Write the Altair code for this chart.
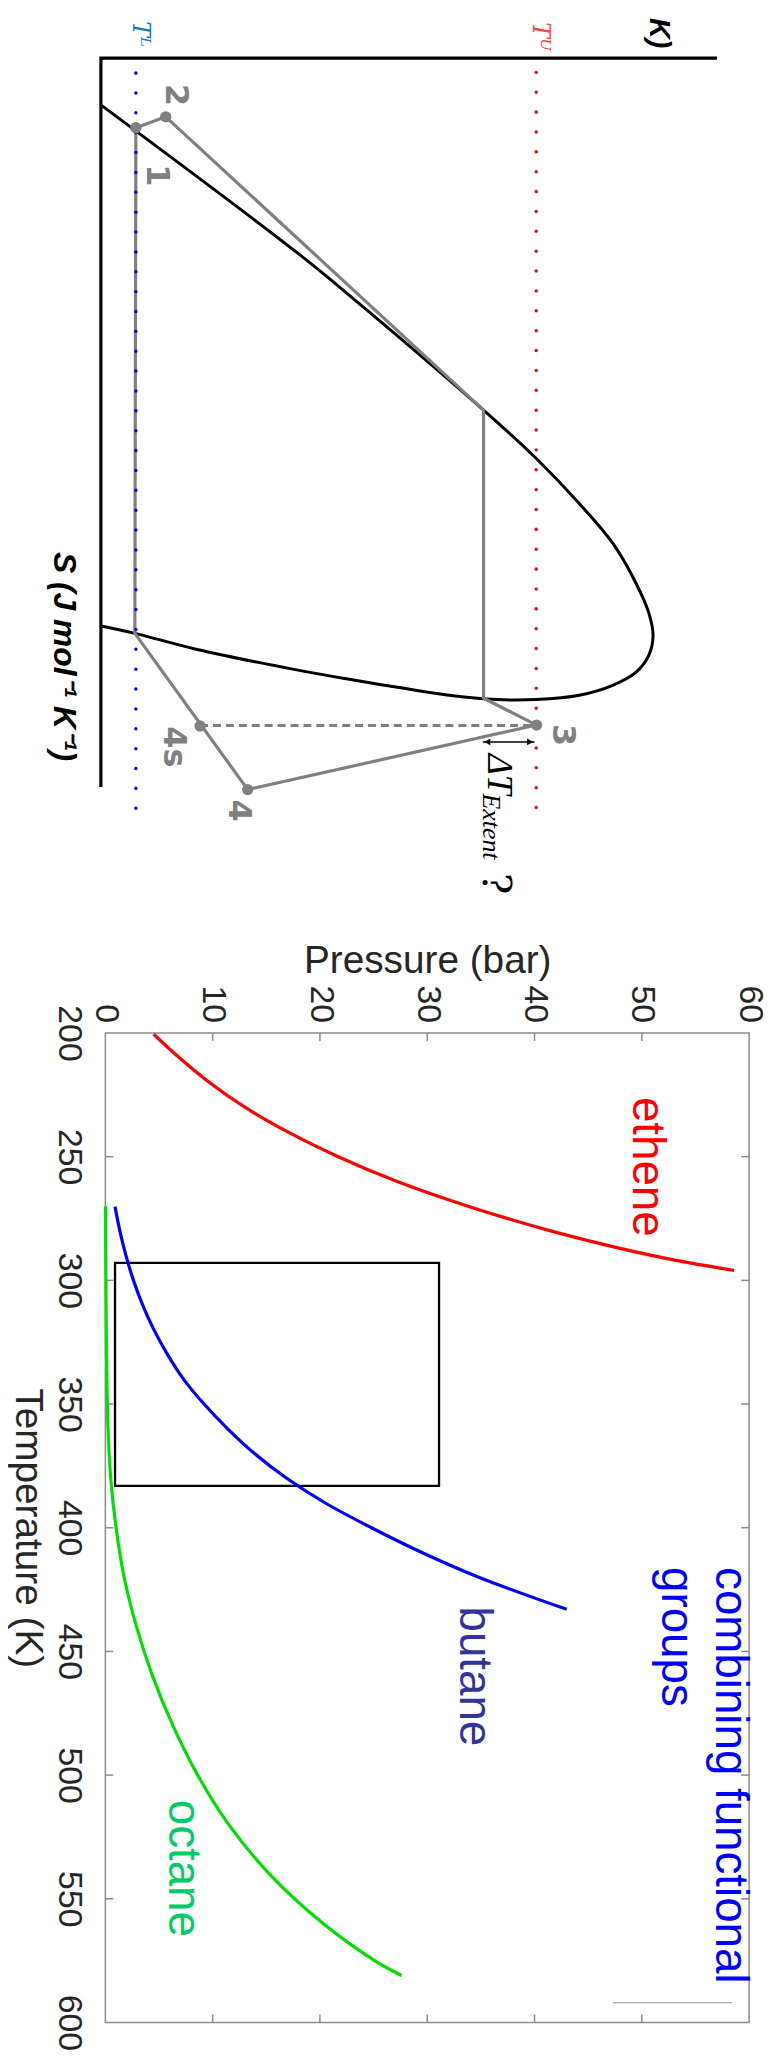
import altair as alt
import pandas as pd

# ================= lower panel: saturation pressure curves =================
ethene_T = [200.5, 210, 220, 230, 240, 250, 260, 270, 280, 290, 296]
ethene_P = [4.5, 6.9, 9.7, 13.0, 17.0, 21.7, 27.2, 33.8, 41.5, 51.0, 58.6]
butane_T = [270.2, 280, 290, 300, 310, 320, 330, 340, 350, 360, 370, 380, 390, 400, 410, 420, 433]
butane_P = [0.9, 1.35, 1.92, 2.62, 3.48, 4.53, 5.8, 7.3, 9.2, 11.4, 13.9, 16.9, 20.5, 24.8, 29.5, 34.8, 43.0]
octane_T = [270, 300, 330, 360, 380, 400, 420, 440, 460, 480, 500, 520, 540, 560, 575, 581]
octane_P = [0.02, 0.05, 0.1, 0.25, 0.5, 1.0, 1.75, 2.9, 4.4, 6.3, 8.6, 11.5, 15.3, 20.3, 25.1, 27.6]

box_P = [0.9, 31.1]
box_T = [292.9, 383.1]

legend_P = [47.3, 58.4]
legend_T = [592.0]

P_label_values = [0, 10, 20, 30, 40, 50, 60]
T_label_values = [200, 250, 300, 350, 400, 450, 500, 550, 600]
P_inner_ticks = [10, 20, 30, 40, 50]
T_inner_ticks = [250, 300, 350, 400, 450, 500, 550]

name_text = ["ethene", "butane", "octane"]
name_P = [49.2, 33.1, 5.9]
name_T = [254.1, 460.1, 537.7]
name_color = ["#ff0000", "#33339c", "#00cc66"]

note_text = ["combining functional", "groups"]
note_P = [56.9, 51.9]
note_T = [415.9, 415.9]

# ================= upper panel: T-s diagram (schematic units 0-100) =================
axis_u = [95.0, -0.69, -0.69]
axis_v = [4.9, 4.9, 87.14]

dome_u = [-0.66, 29.94, 39.66, 58.75, 66.98, 73.61, 78.81, 82.41, 84.41, 85.08, 84.41, 82.41,
          78.81, 73.61, 66.98, 60.80, 53.09, 45.37, 37.65, 29.32, 14.10, 4.58, -0.66]
dome_v = [10.20, 26.94, 32.74, 44.62, 50.11, 55.16, 59.64, 64.13, 67.49, 70.07, 72.31, 74.22,
          75.67, 76.79, 77.28, 77.28, 76.76, 75.90, 74.97, 73.88, 71.60, 69.81, 68.98]

cycle_u = [4.74, 9.38, 58.75, 58.75, 66.98, 22.11, 4.58, 4.74]
cycle_v = [12.75, 11.52, 44.62, 77.13, 80.16, 87.44, 69.81, 12.75]

state_name = ["1", "2", "3", "4", "4s"]
state_u = [4.74, 9.38, 66.98, 22.11, 14.72]
state_v = [12.75, 11.52, 80.16, 87.44, 80.27]
state_label_u = [8.02, 10.91, 71.14, 20.76, 10.65]
state_label_v = [18.11, 9.08, 81.28, 89.80, 82.62]

isentrope_u = [14.72, 66.98]
isentrope_v = [80.2]

limit_name = ["Tᴸ", "Tᵁ"]
limit_u = [4.74, 66.93]
limit_v_start = [6.58, 6.5]
limit_v_end = [89.8, 89.8]
limit_label_u = [5.40, 67.44]
limit_label_v = [2.19, 2.47]

delta_u = [58.64, 66.67]
delta_v = [82.06]

W1, H1 = 648, 892
W2, H2 = 648, 996
FONT = "Liberation Sans"
AX = "#262626"
FRAME = "#8c8c8c"
GRAY = "#808080"

# ---------------- upper panel ----------------
def ux(f="u"):
    return alt.X(f"{f}:Q", scale=alt.Scale(domain=[0, 100], nice=False, zero=False), axis=None)

def vy(f="v"):
    return alt.Y(f"{f}:Q", scale=alt.Scale(domain=[0, 100], nice=False, zero=False, reverse=True), axis=None)

axes_df = pd.DataFrame({"u": axis_u, "v": axis_v, "i": list(range(len(axis_u)))})
dome_df = pd.DataFrame({"u": dome_u, "v": dome_v, "i": list(range(len(dome_u)))})
cycle_df = pd.DataFrame({"u": cycle_u, "v": cycle_v, "i": list(range(len(cycle_u)))})
state_df = pd.DataFrame({"name": state_name, "u": state_u, "v": state_v})
state_lab_df = pd.DataFrame({"name": state_name, "u": state_label_u, "v": state_label_v})
isen_df = pd.DataFrame({"u": [isentrope_u[0]], "u2": [isentrope_u[1]], "v": isentrope_v})
limit_df = pd.DataFrame({"u": limit_u, "v": limit_v_start, "v2": limit_v_end, "c": ["#0000ff", "#ff0000"]})
limit_lab_df = pd.DataFrame({"t": limit_name, "u": limit_label_u, "v": limit_label_v, "c": ["#1a73c8", "#ff4040"]})
delta_df = pd.DataFrame({"u": [delta_u[0]], "u2": [delta_u[1]], "v": delta_v})

layers_top = [
    alt.Chart(axes_df).mark_line(color="black", strokeWidth=3.2, strokeJoin="miter").encode(
        x=ux(), y=vy(), order="i:Q"),
    alt.Chart(dome_df).mark_line(color="black", strokeWidth=3, interpolate="catmull-rom").encode(
        x=ux(), y=vy(), order="i:Q"),
    alt.Chart(cycle_df).mark_line(color=GRAY, strokeWidth=3.2, strokeJoin="round").encode(
        x=ux(), y=vy(), order="i:Q"),
    alt.Chart(isen_df).mark_rule(color=GRAY, strokeWidth=3, strokeDash=[8, 5]).encode(
        x=ux(), x2="u2:Q", y=vy()),
    alt.Chart(limit_df).mark_rule(strokeWidth=3.4, strokeDash=[0.1, 19.9], strokeCap="round").encode(
        x=ux(), y=vy(), y2="v2:Q", color=alt.Color("c:N", scale=None)),
    alt.Chart(state_df).mark_circle(size=130, color=GRAY, opacity=1).encode(x=ux(), y=vy()),
    alt.Chart(state_lab_df).mark_text(angle=90, font="DejaVu Sans", fontWeight="bold", fontSize=32,
                                      color=GRAY, align="center", baseline="middle").encode(
        x=ux(), y=vy(), text="name:N"),
    alt.Chart(limit_lab_df).mark_text(angle=90, font="DejaVu Serif", fontStyle="italic", fontSize=24,
                                      align="center", baseline="middle").encode(
        x=ux(), y=vy(), text="t:N", color=alt.Color("c:N", scale=None)),
    alt.Chart(delta_df).mark_rule(color="black", strokeWidth=1.5).encode(x=ux(), x2="u2:Q", y=vy()),
    alt.Chart(pd.DataFrame({"u": [delta_u[0] + 0.7], "v": delta_v})).mark_point(
        shape="triangle-left", filled=True, size=45, color="black", opacity=1).encode(x=ux(), y=vy()),
    alt.Chart(pd.DataFrame({"u": [delta_u[1] - 0.7], "v": delta_v})).mark_point(
        shape="triangle-right", filled=True, size=45, color="black", opacity=1).encode(x=ux(), y=vy()),
    alt.Chart(pd.DataFrame({"t": ["ΔT"], "u": [59.41], "v": [83.41]})).mark_text(
        angle=90, font="Liberation Serif", fontStyle="italic", fontSize=36, color="black",
        align="left", baseline="alphabetic").encode(x=ux(), y=vy(), text="t:N"),
    alt.Chart(pd.DataFrame({"t": ["Extent"], "u": [58.64], "v": [87.89]})).mark_text(
        angle=90, font="Liberation Serif", fontStyle="italic", fontSize=26, color="black",
        align="left", baseline="alphabetic").encode(x=ux(), y=vy(), text="t:N"),
    alt.Chart(pd.DataFrame({"t": ["?"], "u": [58.64], "v": [96.86]})).mark_text(
        angle=90, font="DejaVu Serif", fontSize=40, color="black",
        align="left", baseline="alphabetic").encode(x=ux(), y=vy(), text="t:N"),
    alt.Chart(pd.DataFrame({"t": ["S (J mol⁻¹ K⁻¹)"], "u": [-6.48], "v": [72.42]})).mark_text(
        angle=90, font=FONT, fontStyle="italic", fontWeight="bold", fontSize=32, color="black",
        align="center", baseline="middle").encode(x=ux(), y=vy(), text="t:N"),
    alt.Chart(pd.DataFrame({"t": ["K)"], "u": [86.07], "v": [3.8]})).mark_text(
        angle=90, font=FONT, fontStyle="italic", fontWeight="bold", fontSize=29, color="black",
        align="right", baseline="middle").encode(x=ux(), y=vy(), text="t:N"),
]
top = alt.layer(*layers_top).properties(width=W1, height=H1)

# ---------------- lower panel ----------------
x_axis = alt.Axis(orient="top", values=P_label_values, labelAngle=90, labelAlign="right",
                  labelBaseline="middle", labelFontSize=34, labelFont=FONT, labelColor=AX,
                  labelPadding=10.5, labelFlush=False, labelOverlap=False, ticks=False,
                  domain=False, grid=False, title="Pressure (bar)", titleFont=FONT,
                  titleFontSize=39, titleFontWeight="normal", titleColor=AX, titlePadding=4.7)
y_axis = alt.Axis(orient="left", values=T_label_values, labelAngle=90, labelAlign="center",
                  labelBaseline="top", labelFontSize=34, labelFont=FONT, labelColor=AX,
                  labelPadding=20.5, labelFlush=False, labelOverlap=False, ticks=False,
                  domain=False, grid=False, title="Temperature (K)", titleAngle=90,
                  titleBaseline="top", titleFont=FONT, titleFontSize=39,
                  titleFontWeight="normal", titleColor=AX, titlePadding=4.5)

def px():
    return alt.X("P:Q", scale=alt.Scale(domain=[0, 60], nice=False, zero=False), axis=x_axis)

def ty():
    return alt.Y("T:Q", scale=alt.Scale(domain=[200, 600], nice=False, zero=False, reverse=True), axis=y_axis)

curves = pd.concat([
    pd.DataFrame({"T": octane_T, "P": octane_P, "s": "octane", "c": "#00e000"}),
    pd.DataFrame({"T": butane_T, "P": butane_P, "s": "butane", "c": "#0000ff"}),
    pd.DataFrame({"T": ethene_T, "P": ethene_P, "s": "ethene", "c": "#ff0000"}),
], ignore_index=True)

box_df = pd.DataFrame({"P": [box_P[0]], "P2": [box_P[1]], "T": [box_T[0]], "T2": [box_T[1]]})
leg_df = pd.DataFrame({"P": [legend_P[0]], "P2": [legend_P[1]], "T": legend_T})
tT_df = pd.DataFrame({"T": T_inner_ticks})
tP_df = pd.DataFrame({"P": P_inner_ticks})
names_df = pd.DataFrame({"t": name_text, "P": name_P, "T": name_T, "c": name_color})
notes_df = pd.DataFrame({"t": note_text, "P": note_P, "T": note_T})
frame_df = pd.DataFrame({"f": [0]})

layers_bottom = [
    alt.Chart(frame_df).mark_rect(fillOpacity=0, stroke=FRAME, strokeWidth=1.5).encode(
        x=alt.value(0), x2=alt.value(W2), y=alt.value(0), y2=alt.value(H2)),
    alt.Chart(tT_df).mark_rule(color=FRAME, strokeWidth=1.5).encode(
        y=ty(), x=alt.value(0), x2=alt.value(8)),
    alt.Chart(tT_df).mark_rule(color=FRAME, strokeWidth=1.5).encode(
        y=ty(), x=alt.value(W2 - 8), x2=alt.value(W2)),
    alt.Chart(tP_df).mark_rule(color=FRAME, strokeWidth=1.5).encode(
        x=px(), y=alt.value(0), y2=alt.value(8)),
    alt.Chart(tP_df).mark_rule(color=FRAME, strokeWidth=1.5).encode(
        x=px(), y=alt.value(H2 - 8), y2=alt.value(H2)),
    alt.Chart(leg_df).mark_rule(color="#a8a8a8", strokeWidth=1.2).encode(x=px(), x2="P2:Q", y=ty()),
    alt.Chart(box_df).mark_rect(fillOpacity=0, stroke="black", strokeWidth=2.3).encode(
        x=px(), x2="P2:Q", y=ty(), y2="T2:Q"),
    alt.Chart(curves).mark_line(strokeWidth=3.2, interpolate="catmull-rom").encode(
        x=px(), y=ty(), detail="s:N", order="T:Q", color=alt.Color("c:N", scale=None)),
    alt.Chart(names_df).mark_text(angle=90, font=FONT, fontSize=46, align="center",
                                  baseline="alphabetic").encode(
        x=px(), y=ty(), text="t:N", color=alt.Color("c:N", scale=None)),
    alt.Chart(notes_df).mark_text(angle=90, font=FONT, fontSize=46, align="left",
                                  baseline="alphabetic", color="#0000ff").encode(
        x=px(), y=ty(), text="t:N"),
]
bottom = alt.layer(*layers_bottom).properties(width=W2, height=H2)

chart = alt.vconcat(top, bottom, spacing=40).properties(padding=0).configure_view(stroke=None)
chart.save("out.html", embed_options={"renderer": "svg", "actions": False})
